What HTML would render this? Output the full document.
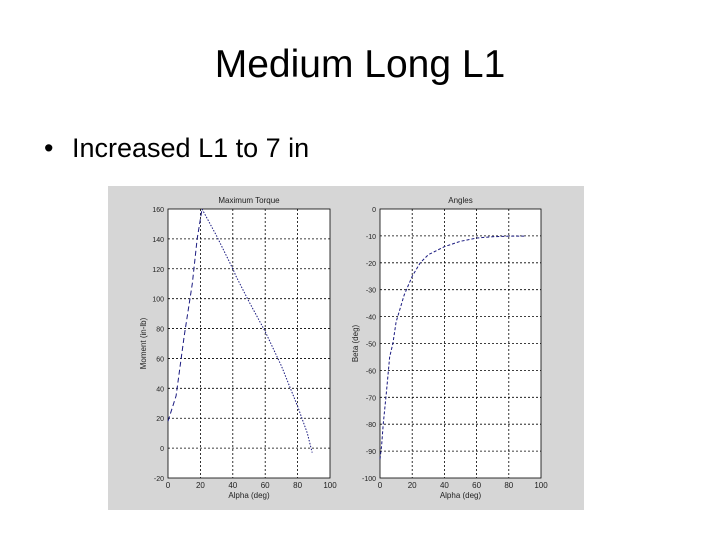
<!DOCTYPE html>
<html><head><meta charset="utf-8"><style>
body{margin:0;width:720px;height:540px;background:#fff;position:relative;overflow:hidden;font-family:"Liberation Sans",sans-serif}
#title{position:absolute;left:0;width:720px;top:43px;text-align:center;font-size:39px;color:#000}
#bullet{position:absolute;left:44px;top:133px;font-size:27px;color:#000}
#bullet span{display:inline-block;width:28px}
svg{position:absolute;left:0;top:0}
</style></head><body>
<div id="title">Medium Long L1</div>
<div id="bullet"><span>•</span>Increased L1 to 7 in</div>
<svg id="fig" width="720" height="540">
<rect x="108" y="186" width="476" height="324" fill="#d6d6d6"/>
</svg>
<script>
const torqueX=[0,5,10,15,18,21,30,40,42,50,60,70,80,86,89];
const torqueY=[18,35,75,110,140,160,142,120,115,98,78,55,28,10,-3];
const torquePeak=5;
const torqueTicks=[160,140,120,100,80,60,40,20,0,-20];
const angleX=[0,1,2,4,6,8,10,15,20,25,30,40,50,60,70,80,90];
const angleY=[-93,-88,-80,-68,-55,-50,-42,-32,-25,-20,-17,-14,-12,-10.8,-10.3,-10.1,-10.1];
const angleTicks=[0,-10,-20,-30,-40,-50,-60,-70,-80,-90,-100];
const xTicks=[0,20,40,60,80,100];
const NS="http://www.w3.org/2000/svg";
const svg=document.getElementById('fig');
function mk(t,a,p){const e=document.createElementNS(NS,t);for(const k in a)e.setAttribute(k,a[k]);(p||svg).appendChild(e);return e;}
function panel(L,R,T,B,ymin,ymax,yt,title,ylab,name){
 const sx=v=>L+(v-0)/(100)*(R-L), sy=v=>B-(v-ymin)/(ymax-ymin)*(B-T);
 const g=mk('g',{});
 
 
 const bg=mk('rect',{x:L,y:T,width:R-L,height:B-T,fill:'#fff',stroke:'#000','stroke-width':0.8},g);
 
 
 xTicks.forEach(v=>{
  if(v>0&&v<100){const l=mk('line',{x1:sx(v),x2:sx(v),y1:T,y2:B,stroke:'#000','stroke-width':0.8,'stroke-dasharray':'2,2'},g);
  
  }
  const t=mk('text',{x:sx(v),y:B+10,'font-size':8,'text-anchor':'middle',fill:'#222'},g);t.textContent=v;
  
  
 });
 yt.forEach(v=>{
  if(v!==ymin&&v!==ymax){const l=mk('line',{x1:L,x2:R,y1:sy(v),y2:sy(v),stroke:'#000','stroke-width':0.8,'stroke-dasharray':'2,2'},g);
  
  }
  const t=mk('text',{x:L-4,y:sy(v)+3,'font-size':7,'text-anchor':'end',fill:'#222'},g);t.textContent=v;
  
  
 });
 const tt=mk('text',{x:(L+R)/2,y:T-6,'font-size':8,'text-anchor':'middle',fill:'#222'},g);tt.textContent=title;
 
 
 const xl=mk('text',{x:(L+R)/2,y:B+20,'font-size':8,'text-anchor':'middle',fill:'#222'},g);xl.textContent='Alpha (deg)';
 
 
 const yl=mk('text',{x:0,y:0,'font-size':8,'text-anchor':'middle',fill:'#222',transform:`translate(${L-22},${(T+B)/2}) rotate(-90)`},g);yl.textContent=ylab;
 
 
 return {g,sx,sy};
}
const p1=panel(168,330,209,478,-20,160,torqueTicks,'Maximum Torque','Moment (in-lb)','torque-chart');
const rise=torqueX.slice(0,torquePeak+1).map((x,i)=>p1.sx(x)+','+p1.sy(torqueY[i])).join(' ');
const fall=torqueX.slice(torquePeak).map((x,i)=>p1.sx(x)+','+p1.sy(torqueY[i+torquePeak])).join(' ');
const l1=mk('polyline',{points:rise,fill:'none',stroke:'#1a1a80','stroke-width':1,'stroke-dasharray':'5,3'},p1.g);


const l2=mk('polyline',{points:fall,fill:'none',stroke:'#1a1a80','stroke-width':1,'stroke-dasharray':'1.5,1.5'},p1.g);


const p2=panel(380,541,209,478,-100,0,angleTicks,'Angles','Beta (deg)','angles-chart');
const apts=angleX.map((x,i)=>p2.sx(x)+','+p2.sy(angleY[i])).join(' ');
const l3=mk('polyline',{points:apts,fill:'none',stroke:'#1a1a80','stroke-width':1,'stroke-dasharray':'3,2'},p2.g);


</script>
</body></html>
